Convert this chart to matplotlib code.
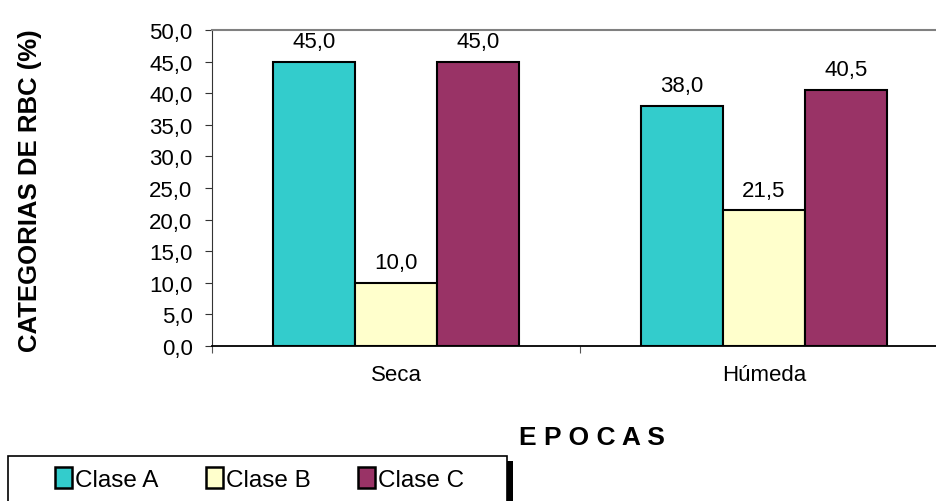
import numpy as np
import matplotlib.pyplot as plt
from matplotlib.patches import Rectangle, Patch

plt.rcParams['font.family'] = ['Liberation Sans', 'DejaVu Sans']

epocas = ["Seca", "Húmeda"]
clases = ["Clase A", "Clase B", "Clase C"]
clase_a = [45.0, 38.0]
clase_b = [10.0, 21.5]
clase_c = [45.0, 40.5]
colores = ["#33CCCC", "#FFFFCC", "#993366"]

fig = plt.figure(figsize=(9.36, 5.02), dpi=100)
ax = fig.add_axes([212 / 936, 155 / 502, 736 / 936, 316 / 502])

x = np.arange(len(epocas))
w = 0.223
for i, (vals, col) in enumerate(zip([clase_a, clase_b, clase_c], colores)):
    bars = ax.bar(x + (i - 1) * w, vals, w, color=col, edgecolor="black", linewidth=1.5)
    for b, v in zip(bars, vals):
        ax.annotate(f"{v:.1f}".replace(".", ","), (b.get_x() + b.get_width() / 2, v),
                    xytext=(0, 10.5), textcoords="offset points", ha="center",
                    va="baseline", fontsize=16)

ax.set_xlim(-0.5, 1.5)
ax.set_ylim(0, 50)
yt = np.arange(0, 50.1, 5)
ax.set_yticks(yt)
ax.set_yticklabels([f"{t:.1f}".replace(".", ",") for t in yt], fontsize=16)
ax.set_xticks([-0.5, 0.5, 1.5])
ax.set_xticklabels([])
ax.set_xticks(x, minor=True)
ax.set_xticklabels(epocas, minor=True, fontsize=16)
ax.tick_params(axis="x", which="minor", length=0, pad=13)
ax.tick_params(axis="x", which="major", length=5, color="#555555")
ax.tick_params(axis="y", length=5, color="#333333", pad=9)

ax.spines["top"].set_color("#808080")
ax.spines["top"].set_linewidth(1.5)
ax.spines["left"].set_color("#333333")
ax.spines["bottom"].set_linewidth(1.3)
ax.spines["right"].set_visible(False)

fig.text(30 / 936, 1 - 191 / 502, "CATEGORIAS DE RBC (%)", rotation=90, ha="center",
         va="center", fontsize=18.5, fontweight="bold")
fig.text(592 / 936, 1 - 438 / 502, "E P O C A S", ha="center", va="center",
         fontsize=19, fontweight="bold")

# legend frame with a dark shadow on the right
fig.patches.append(Rectangle((507 / 936, 0), 6 / 936, 40 / 502, transform=fig.transFigure,
                             facecolor="black", edgecolor="none", zorder=1))
fig.patches.append(Rectangle((8 / 936, -0.02), 499 / 936, 1 - 457 / 502 + 0.02,
                             transform=fig.transFigure, facecolor="white",
                             edgecolor="black", linewidth=1.2, zorder=2))
handles = [Patch(facecolor=c, edgecolor="black", linewidth=1.8) for c in colores]
fig.legend(handles, clases, loc="center left", bbox_to_anchor=(55 / 936, 1 - 480 / 502),
           ncol=3, frameon=False, fontsize=17.5, handlelength=0.7, handleheight=0.95,
           handletextpad=0.12, columnspacing=1.95, borderaxespad=0, borderpad=0)

fig.savefig("out.png", dpi=100)
